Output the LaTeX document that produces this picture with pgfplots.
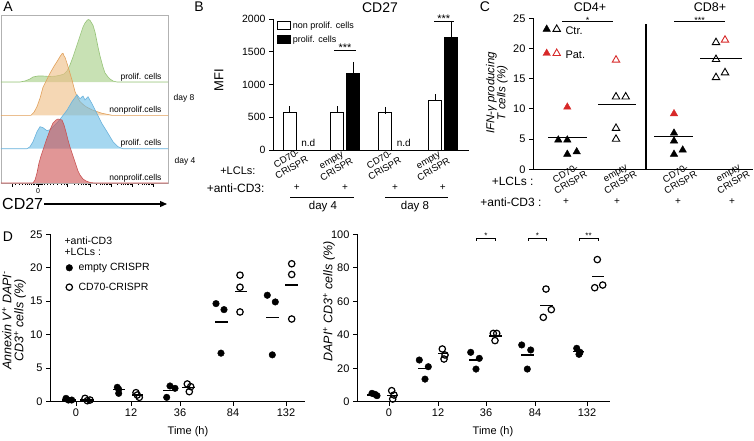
\documentclass[border=0pt]{standalone}
\usepackage{pgfplots}
\pgfplotsset{compat=1.18}
\usepackage{fontspec}
\setmainfont{Liberation Sans}
\usetikzlibrary{arrows.meta}
\definecolor{gF}{RGB}{163,205,130}
\definecolor{gL}{RGB}{150,195,120}
\definecolor{oF}{RGB}{238,188,130}
\definecolor{oL}{RGB}{225,160,90}
\definecolor{bF}{RGB}{105,188,230}
\definecolor{bL}{RGB}{105,178,220}
\definecolor{rF}{RGB}{205,80,80}
\definecolor{rL}{RGB}{200,80,80}
\definecolor{patred}{RGB}{215,40,40}
\newcommand{\fs}[1]{\fontsize{#1}{#1}\selectfont}
\begin{document}
\begin{tikzpicture}[x=1pt,y=1pt]
\useasboundingbox (0,0) rectangle (754,440);
\coordinate (pA) at (1,257);
\coordinate (pB) at (273,290);
\coordinate (pC) at (533,270.7);
\coordinate (pD) at (50,38.3);
\coordinate (pE) at (357,38.3);
\pgfplotsset{
  every axis/.append style={scale only axis, anchor=south west, clip=false,
    /pgf/number format/assume math mode=true,
    /pgf/number format/1000 sep={},
    every tick/.style={black, line width=0.9pt},
    tick align=outside, major tick length=4pt},
  Lax/.style={axis line style={draw=none}, xtick pos=bottom, ytick pos=left},
}
\newcommand{\Llines}{\draw[line width=0.9pt] (rel axis cs:0,1) -- (rel axis cs:0,0) -- (rel axis cs:1,0);}
\tikzset{rotlab/.style={font=\fontsize{9.5}{10.5}\selectfont, rotate=30, align=center, inner sep=0pt}}
% ================= Panel A =================
\node[font=\fs{14}] at (8,433) {A};
\begin{axis}[at={(pA)}, width=167pt, height=168pt, xmin=1, xmax=168, ymin=0, ymax=168,
  axis line style={line width=0.6pt, gray!60},
  xtick={12,38,67,90,111,132,153}, xticklabels={,0,,,,,},
  minor xtick={15,19,22,25,27,29,31,33,34.5,36,37,39,40,41,42,44,47,50,53,57,61,64,66,73.9,78,80.8,83.1,84.9,86.4,87.8,88.9,96.3,100,102.6,104.7,106.3,107.7,109,110,117.3,121,123.6,125.7,127.3,128.7,130,131,138.3,142,144.6,146.7,148.3,149.7,151,152},
  xtick pos=bottom, ytick=\empty,
  major tick length=3.5pt, minor tick length=2pt,
  every tick/.style={black, line width=0.6pt},
  xticklabel style={font=\fs{7}, yshift=1pt}]
\addplot[draw=gL, line width=0.6pt, fill=gF, fill opacity=0.6] table[x=x, y expr=\thisrow{h}+101, row sep=\\] {
x h\\ 1 0\\ 20 0\\ 25 1\\ 30 3\\ 33 5\\ 38 6\\ 43 6\\ 47 5.7\\ 50 5.5\\ 55 5.8\\ 60 6.7\\ 64 8\\ 67 11\\ 70 17\\ 73 25\\ 77 37\\ 80 46\\ 83 55\\ 85 59\\ 87 61.5\\ 88.3 62.5\\ 90 61.7\\ 93 56.7\\ 95 50\\ 98 35\\ 100 26\\ 103 15\\ 105 9\\ 108 5\\ 110 3\\ 113 1\\ 117 0\\ 168 0\\
};
\addplot[draw=oL, line width=0.6pt, fill=oF, fill opacity=0.6] table[x=x, y expr=\thisrow{h}+67.7, row sep=\\] {
x h\\ 1 0\\ 31 0\\ 34 3\\ 37 8.7\\ 40 17\\ 43 28\\ 47 36\\ 50 42\\ 54 49\\ 57 53.7\\ 60 58.7\\ 62 61.5\\ 63 62\\ 64 59.5\\ 65 58\\ 67 52\\ 68 48.7\\ 70 42\\ 72 35.3\\ 75 23.7\\ 78 17\\ 80 13.7\\ 84 10\\ 87 8\\ 92 5.5\\ 97 3.7\\ 102 2\\ 107 1\\ 112 0\\ 168 0\\
};
\addplot[draw=bL, line width=0.6pt, fill=bF, fill opacity=0.6] table[x=x, y expr=\thisrow{h}+34.3, row sep=\\] {
x h\\ 1 0\\ 27 0\\ 30 2\\ 33 7\\ 37 17\\ 40 22\\ 43 21\\ 47 18\\ 50 19\\ 53 22\\ 58 27\\ 62 32\\ 67 38.5\\ 72 47\\ 77 54\\ 80 50\\ 83 52.7\\ 85 48.7\\ 88 52\\ 92 45\\ 97 35\\ 102 25\\ 107 17\\ 113 7\\ 118 2\\ 123 0\\ 168 0\\
};
\addplot[draw=rL, line width=0.6pt, fill=rF, fill opacity=0.6] table[x=x, y=h, row sep=\\] {
x h\\ 1 0\\ 33 0\\ 35 3\\ 37 10\\ 39 20\\ 41 27\\ 43 33\\ 46 42\\ 50 53\\ 53 60\\ 56 63\\ 58 64\\ 60 63.5\\ 62 63\\ 64 58\\ 66 51\\ 68 43\\ 70 36\\ 72 30\\ 74 24\\ 76 18\\ 78 12\\ 80 8\\ 83 4\\ 86 2\\ 90 0.5\\ 95 0\\ 168 0\\
};
\node[anchor=base east, font=\fs{8.5}] at (axis cs:165,104) {prolif. cells};
\node[anchor=base east, font=\fs{8.5}] at (axis cs:165,70.7) {nonprolif.cells};
\node[anchor=base east, font=\fs{8.5}] at (axis cs:165,37.3) {prolif. cells};
\node[anchor=base east, font=\fs{8.5}] at (axis cs:165,3) {nonprolif.cells};
\end{axis}
\node[font=\fs{8.5}] at (184,342) {day 8};
\node[font=\fs{8.5}] at (185,279) {day 4};
\node[font=\fs{16}, anchor=west, inner sep=0pt] at (2,236) {CD27};
\draw[-{Triangle[length=7pt,width=6pt]}, line width=1.2pt] (44,236) -- (167,236);
% ================= Panel B =================
\node[font=\fs{14}] at (199,433) {B};
\node[font=\fs{14}] at (380,432) {CD27};
\node[font=\fs{13}, rotate=90] at (219,360) {MFI};
\begin{axis}[Lax, at={(pB)}, width=196pt, height=131pt, xmin=273, xmax=469, ymin=0, ymax=2000,
  ytick={0,500,1000,1500,2000}, xtick=\empty,
  yticklabel style={font=\fs{10.5}},
  ybar, bar width=13, bar shift=0pt,
  legend style={draw=none, fill=none, at={(rel axis cs:0.02,0.995)}, anchor=north west, font=\fs{9}, row sep=2.5pt, inner sep=0pt, cells={anchor=west}}]
\addlegendimage{legend image code/.code={\draw[fill=white,draw=black,line width=0.8pt] (0pt,-3.5pt) rectangle (13pt,4.5pt);}}
\addlegendentry{non prolif. cells}
\addlegendimage{legend image code/.code={\draw[fill=black,draw=black,line width=0.8pt] (0pt,-3.5pt) rectangle (13pt,4.5pt);}}
\addlegendentry{prolif. cells}
\addplot[forget plot, fill=white, draw=black, line width=0.9pt, error bars/.cd, y dir=plus, y explicit, error bar style={line width=0.9pt, black}, error mark options={line width=0.9pt, mark size=3.5pt, black}] coordinates {(289.7,575) +- (0,40) (337,575) +- (0,36) (385.3,570) +- (0,36) (435.3,758) +- (0,41)};
\addplot[forget plot, fill=black, draw=black, line width=0.9pt, error bars/.cd, y dir=plus, y explicit, error bar style={line width=0.9pt, black}, error mark options={line width=0.9pt, mark size=4.5pt, black}] coordinates {(353,1165) +- (0,112) (451.3,1715) +- (0,189)};
\Llines
\node[font=\fs{10}, anchor=base] at (axis cs:308.3,46) {n.d};
\node[font=\fs{10}, anchor=base] at (axis cs:403.7,46) {n.d};
\draw[line width=0.9pt] (axis cs:334,1527) -- (axis cs:356,1527);
\node[font=\fs{11}, anchor=base, inner sep=0pt] at (axis cs:345,1500) {***};
\draw[line width=0.9pt] (axis cs:434,1969) -- (axis cs:453.5,1969);
\node[font=\fs{11}, anchor=base, inner sep=0pt] at (axis cs:443.7,1942) {***};
\end{axis}
\node[font=\fs{11}, anchor=east] at (259,269) {+LCLs:};
\node[font=\fs{12}, anchor=east] at (268,252) {+anti-CD3:};
\node[rotlab] at (289,277) {CD70-\\CRISPR};
\node[rotlab] at (334,275) {empty\\CRISPR};
\node[rotlab] at (382,276) {CD70-\\CRISPR};
\node[rotlab] at (431,275) {empty\\CRISPR};
\foreach \xx in {296.7,345,395,442.7} {\node[font=\fs{10}] at (\xx,252.3) {+};}
\draw[line width=0.8pt] (290,242.7) -- (354,242.7);
\draw[line width=0.8pt] (385,242.7) -- (448.3,242.7);
\node[font=\fs{11.5}] at (323,233) {day 4};
\node[font=\fs{11.5}] at (415,233) {day 8};
% ================= Panel C =================
\node[font=\fs{14}] at (485,433) {C};
\node[font=\fs{12.5}] at (590,433) {CD4+};
\node[font=\fs{12.5}] at (710,433) {CD8+};
\node[font=\fontsize{11.5}{11}\selectfont\itshape, rotate=90, align=center] at (497,347) {IFN-γ producing\\T cells (\%)};
\begin{axis}[Lax, at={(pC)}, width=220pt, height=151pt, xmin=533, xmax=753, ymin=0, ymax=25,
  ytick={0,5,...,25}, xtick=\empty,
  yticklabel style={font=\fs{11}}, unbounded coords=jump]
\addplot[only marks, mark=triangle*, mark size=4.3pt, black] coordinates {(558.3,4.86) (567.3,4.86) (567.3,2.5) (576.7,2.9) (674,4.7) (674,6.0) (674,2.5) (682.7,3.2)};
\addplot[only marks, mark=triangle*, mark size=4.3pt, patred] coordinates {(567.3,10.3) (674,9.2)};
\addplot[only marks, mark=triangle, mark size=4.3pt, black, mark options={line width=0.9pt}] coordinates {(616,12.0) (625.7,12.0) (616,6.8) (616,5.0) (716,21.0) (716,18.2) (716,15.2) (725,16.0)};
\addplot[only marks, mark=triangle, mark size=4.3pt, patred, mark options={line width=0.9pt}] coordinates {(616,18.1) (725,21.4)};
\addplot[black, line width=0.9pt] coordinates {(548,5.2) (587,5.2) (587,nan) (598,10.8) (636,10.8) (636,nan) (654,5.4) (693,5.4) (693,nan) (700,18.4) (742,18.4)};
% legend marks
\addplot[only marks, mark=triangle*, mark size=4.3pt, black] coordinates {(546.7,23.2)};
\addplot[only marks, mark=triangle, mark size=4.3pt, black, mark options={line width=0.9pt}] coordinates {(556.7,23.2)};
\addplot[only marks, mark=triangle*, mark size=4.3pt, patred] coordinates {(546.7,19.2)};
\addplot[only marks, mark=triangle, mark size=4.3pt, patred, mark options={line width=0.9pt}] coordinates {(556.7,19.2)};
\Llines
\node[font=\fs{11}, anchor=west] at (axis cs:562,23.0) {Ctr.};
\node[font=\fs{11}, anchor=west] at (axis cs:562,19.0) {Pat.};
\draw[line width=1.1pt] (axis cs:646,0) -- (axis cs:646,24.0);
\draw[line width=0.9pt] (axis cs:562,24.45) -- (axis cs:613,24.45);
\node[font=\fs{9}, anchor=base, inner sep=0pt] at (axis cs:587.5,24.2) {*};
\draw[line width=0.9pt] (axis cs:674,24.45) -- (axis cs:725,24.45);
\node[font=\fs{9}, anchor=base, inner sep=0pt] at (axis cs:699.5,24.2) {***};
\end{axis}
\node[font=\fs{12}, anchor=east] at (537,259) {+LCLs :};
\node[font=\fs{12}, anchor=east] at (545,238) {+anti-CD3 :};
\node[rotlab] at (568,262) {CD70-\\CRISPR};
\node[rotlab] at (618,262) {empty\\CRISPR};
\node[rotlab] at (678,262) {CD70-\\CRISPR};
\node[rotlab] at (731,262) {empty\\CRISPR};
\foreach \xx in {566,617,678,732} {\node[font=\fs{10}] at (\xx,238) {+};}
% ================= Panel D =================
\node[font=\fs{14}] at (8,203) {D};
\node[font=\fontsize{12.5}{12}\selectfont\itshape, rotate=90, align=center] at (14,119.5) {Annexin V\textsuperscript{+} DAPI\textsuperscript{-}\\CD3\textsuperscript{+} cells (\%)};
\begin{axis}[Lax, at={(pD)}, width=255pt, height=167.4pt, xmin=50, xmax=305, ymin=0, ymax=25,
  ytick={0,5,...,25},
  xtick={76,131,180,233,286}, xticklabels={0,12,36,84,132},
  ticklabel style={font=\fs{11}}, unbounded coords=jump]
\addplot[only marks, mark=*, mark size=3.3pt, black] coordinates {(66,0.5) (68.3,0.25) (71.7,0.25) (117.3,2.15) (118.7,1.85) (118.7,1.25) (166.7,0.65) (170,2.35) (175,2.0) (216,14.65) (224,13.75) (221,7.25) (267.3,15.9) (275.3,14.9) (272.3,7.0)};
\addplot[only marks, mark=o, mark size=3.2pt, black, mark options={line width=1.2pt, fill=white}] coordinates {(85,0.5) (87.3,0.15) (90,0.25) (136,1.35) (137.3,1.0) (139.3,0.65) (187.3,2.65) (190.7,2.25) (189.3,1.5) (240,18.9) (240,17.1) (240,13.4) (291.7,20.6) (291.7,19.0) (291.7,12.35)};
\addplot[black, line width=1.4pt] coordinates {(62,0.25) (76,0.25) (76,nan) (113,1.85) (125,1.85) (125,nan) (163,1.65) (175,1.65) (175,nan) (215,11.9) (228,11.9) (228,nan) (266,12.6) (279,12.6) (279,nan) (80,0.25) (94,0.25) (94,nan) (132,1.0) (143,1.0) (143,nan) (182,2.15) (195,2.15) (195,nan) (235,16.5) (247,16.5) (247,nan) (285,17.4) (298,17.4)};
% legend
\addplot[only marks, mark=*, mark size=3.3pt, black] coordinates {(69.3,20.0)};
\addplot[only marks, mark=o, mark size=3.2pt, black, mark options={line width=1.2pt, fill=white}] coordinates {(69.3,17.1)};
\Llines
\node[font=\fs{10.5}, anchor=west] at (axis cs:61,24.1) {+anti-CD3};
\node[font=\fs{10.5}, anchor=west] at (axis cs:61,22.4) {+LCLs :};
\node[font=\fs{10.5}, anchor=west] at (axis cs:75,20.0) {empty CRISPR};
\node[font=\fs{10.5}, anchor=west] at (axis cs:75,17.1) {CD70-CRISPR};
\end{axis}
\node[font=\fs{11}] at (188,8) {Time (h)};
\node[font=\fontsize{12.5}{12}\selectfont\itshape, rotate=90] at (329,138.5) {DAPI\textsuperscript{+} CD3\textsuperscript{+} cells (\%)};
\begin{axis}[Lax, at={(pE)}, width=253pt, height=167.4pt, xmin=357, xmax=610, ymin=0, ymax=100,
  ytick={0,20,...,100},
  xtick={389,438,486,535,587}, xticklabels={0,12,36,84,132},
  ticklabel style={font=\fs{11}}, unbounded coords=jump]
\addplot[only marks, mark=*, mark size=3.3pt, black] coordinates {(372,5.0) (375,4.4) (377,3.6) (419.3,24.9) (428.3,20.9) (425,13.5) (470.7,29.5) (479.3,25.9) (476,19.5) (521.7,33.9) (530.7,30.9) (527.3,19.5) (576.7,31.9) (579,28.3) (580,29.5)};
\addplot[only marks, mark=o, mark size=3.2pt, black, mark options={line width=1.2pt, fill=white}] coordinates {(391.7,6.6) (394,4.0) (392.7,1.6) (442.3,31.5) (445,27.9) (444,25.5) (493.3,40.8) (496.7,40.8) (495,36.5) (546,67.3) (551.3,55) (543.3,50.4) (597.3,84.9) (594.7,68.1) (602.7,69.7)};
\addplot[black, line width=1.4pt] coordinates {(367,4.0) (379,4.0) (379,nan) (418,19.9) (430,19.9) (430,nan) (469,24.9) (480,24.9) (480,nan) (521,27.9) (534,27.9) (534,nan) (573,29.9) (584,29.9) (584,nan) (387,3.6) (398,3.6) (398,nan) (438,28.9) (448,28.9) (448,nan) (489,39.2) (502,39.2) (502,nan) (540,57.4) (553,57.4) (553,nan) (592,74.7) (604,74.7)};
\Llines
\draw[line width=0.7pt] (axis cs:476.7,96) -- (axis cs:476.7,97.6) -- (axis cs:495,97.6) -- (axis cs:495,96);
\draw[line width=0.7pt] (axis cs:528,96) -- (axis cs:528,97.6) -- (axis cs:546.7,97.6) -- (axis cs:546.7,96);
\draw[line width=0.7pt] (axis cs:579,96) -- (axis cs:579,97.6) -- (axis cs:598,97.6) -- (axis cs:598,96);
\node[font=\fs{8}, anchor=base, inner sep=0pt] at (axis cs:485.8,97.4) {*};
\node[font=\fs{8}, anchor=base, inner sep=0pt] at (axis cs:537.3,97.4) {*};
\node[font=\fs{8}, anchor=base, inner sep=0pt] at (axis cs:588.5,97.4) {**};
\end{axis}
\node[font=\fs{11}] at (493,8) {Time (h)};
\end{tikzpicture}
\end{document}
